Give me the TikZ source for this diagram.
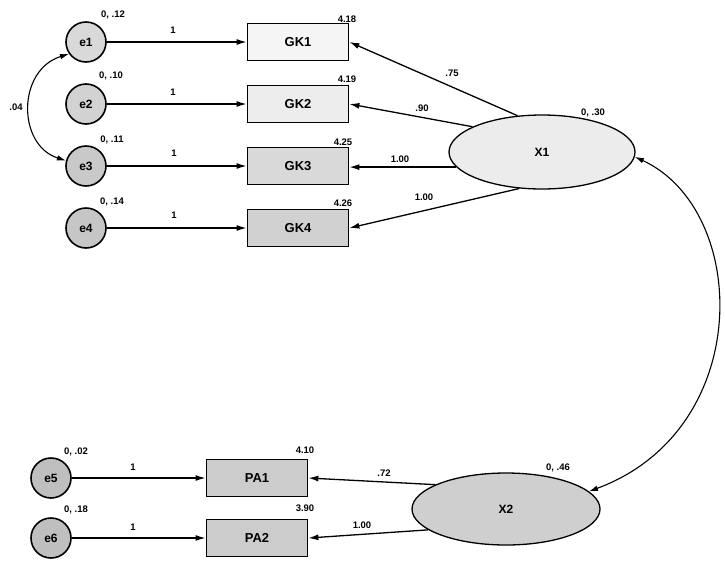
\documentclass[tikz,border=0pt]{standalone}
\usepackage{fontspec}
\setmainfont{Liberation Sans}
\usetikzlibrary{arrows.meta,shapes.geometric}
\begin{document}
\begin{tikzpicture}[x=1pt,y=-1pt,
  err/.style={circle,draw,line width=1.6pt,minimum size=40pt,inner sep=0pt,font=\fontsize{12}{13}\selectfont\bfseries},
  obs/.style={rectangle,draw,line width=1.8pt,minimum width=101pt,minimum height=37pt,inner sep=0pt,font=\fontsize{13}{14}\selectfont\bfseries},
  lat/.style={ellipse,draw,line width=1.3pt,inner sep=0pt,font=\fontsize{12}{13}\selectfont\bfseries},
  arr/.style={-{Latex[length=10pt,width=6pt]},line width=1.3pt},
  arrb/.style={{Latex[length=9pt,width=5.5pt]}-{Latex[length=9pt,width=5.5pt]},line width=1.1pt},
  lbl/.style={font=\fontsize{9.5}{10}\selectfont\bfseries,inner sep=0pt}]
\useasboundingbox (0,0) rectangle (725,560);
% error circles
\node[err,fill=gray!30] (e1) at (86,42) {e1};
\node[err,fill=gray!35] (e2) at (86,104) {e2};
\node[err,fill=gray!42] (e3) at (86,166) {e3};
\node[err,fill=gray!45] (e4) at (86,228) {e4};
\node[err,fill=gray!50] (e5) at (51,478) {e5};
\node[err,fill=gray!50] (e6) at (51,538) {e6};
% observed
\node[obs,fill=gray!8] (GK1) at (298,42) {GK1};
\node[obs,fill=gray!14] (GK2) at (298,104) {GK2};
\node[obs,fill=gray!30] (GK3) at (298,166) {GK3};
\node[obs,fill=gray!36] (GK4) at (298,228) {GK4};
\node[obs,fill=gray!40] (PA1) at (257,478) {PA1};
\node[obs,fill=gray!40] (PA2) at (257,538) {PA2};
% latent
\node[lat,fill=gray!15,minimum width=186pt,minimum height=74pt] (X1) at (542,152) {X1};
\node[lat,fill=gray!38,minimum width=188pt,minimum height=72pt] (X2) at (506,509) {X2};
% error paths
\draw[arr] (e1) -- (GK1);
\draw[arr] (e2) -- (GK2);
\draw[arr] (e3) -- (GK3);
\draw[arr] (e4) -- (GK4);
\draw[arr] (e5) -- (PA1);
\draw[arr] (e6) -- (PA2);
% loadings
\draw[arr] (X1.124) -- (GK1.east);
\draw[arr] (X1.160) -- (GK2.east);
\draw[arr] (X1.190) -- (X1.190 -| GK3.east);
\draw[arr] (X1.238) -- (GK4.east);
\draw[arr] (X2.161) -- (PA1.east);
\draw[arr] (X2.195) -- (PA2.east);
% covariances
\draw[arrb] (e1.215) .. controls (17,70) and (17,145) .. (e3.165);
\draw[arrb] (X1.-3) .. controls (750,210) and (755,430) .. (X2.12);
% labels
\node[lbl] (v1) at (113,15) {0, .12};
\node[lbl] (v2) at (111,76) {0, .10};
\node[lbl] (v3) at (112,140) {0, .11};
\node[lbl] (v4) at (112,202) {0, .14};
\node[lbl] (v5) at (76,452) {0, .02};
\node[lbl] (v6) at (76,510) {0, .18};
\node[lbl] (w1) at (173,30) {1};
\node[lbl] (w2) at (173,92) {1};
\node[lbl] (w3) at (174,153) {1};
\node[lbl] (w4) at (174,215) {1};
\node[lbl] (w5) at (133,467) {1};
\node[lbl] (w6) at (133,527) {1};
\node[lbl] (m1) at (347,19) {4.18};
\node[lbl] (m2) at (347,79) {4.19};
\node[lbl] (m3) at (343,142) {4.25};
\node[lbl] (m4) at (343,203) {4.26};
\node[lbl] (m5) at (305,450) {4.10};
\node[lbl] (m6) at (305,508) {3.90};
\node[lbl] (l1) at (452,73) {.75};
\node[lbl] (l2) at (422,108) {.90};
\node[lbl] (l3) at (400,159) {1.00};
\node[lbl] (l4) at (424,197) {1.00};
\node[lbl] (l5) at (384,473) {.72};
\node[lbl] (l6) at (362,525) {1.00};
\node[lbl] (x1v) at (593,113) {0, .30};
\node[lbl] (x2v) at (558,468) {0, .46};
\node[lbl] (c13) at (16,107) {.04};
\end{tikzpicture}
\end{document}
